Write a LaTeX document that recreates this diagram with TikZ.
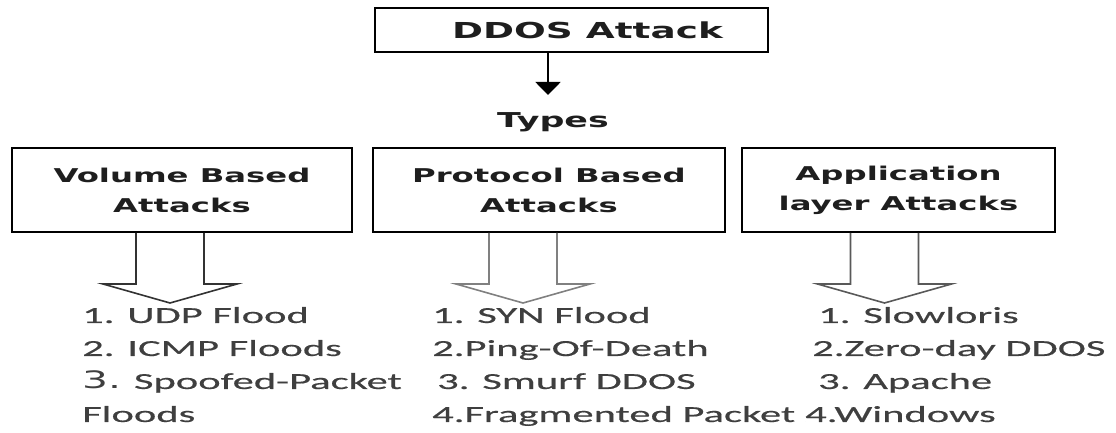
\documentclass[tikz,border=0pt]{standalone}
\usepackage{fontspec}
\setmainfont{DejaVu Sans}
\newfontfamily\headfont{DejaVu Sans}[FakeStretch=1.7]
\newfontfamily\listfont{Carlito}[FakeStretch=1.85,FakeBold=0.5]
\newfontfamily\numfont{DejaVu Sans}[FakeStretch=1.7]
\usetikzlibrary{arrows.meta,calc}
\definecolor{headcol}{HTML}{1E1E1E}
\definecolor{listcol}{HTML}{3F3F3F}
% hollow block arrow hanging below a box: #1 box, #2 shift of left shaft edge, #3 colour
\newcommand\fatarrow[3]{%
  \draw[fat,draw=#3] ([xshift=#2]#1.south) -- ++(0,-51) -- ++(-33,0)
    -- ++(67,-19) -- ++(67,19) -- ++(-33,0) -- ++(0,51);}
\begin{document}
\begin{tikzpicture}[x=1pt,y=1pt,
  box/.style={draw=black, line width=2pt, minimum height=84pt, inner sep=0pt,
    align=center, text=headcol, font=\headfont\bfseries\fontsize{19}{30}\selectfont},
  items/.style={anchor=base west, align=left, inner sep=0pt, text=listcol,
    font=\listfont\fontsize{23}{33}\selectfont},
  fat/.style={line width=1.6pt, line join=miter}]
\useasboundingbox (0,0) rectangle (1116,433);

% title and the arrow down to the types
\node[box, minimum width=393pt, minimum height=44pt,
  font=\headfont\bfseries\fontsize{22}{26}\selectfont] (top) at (571.5,403)
  {\raisebox{-8pt}{\hspace*{32pt}DDOS Attack}};
\coordinate (tip) at (548,338);
\draw[-{Triangle[width=25pt,length=13pt]}, line width=2pt] (top.south -| tip) -- (tip);
\node[anchor=base, inner sep=0pt, text=headcol,
  font=\headfont\bfseries\fontsize{20.5}{24}\selectfont] (types) at (553,305) {Types};

% the three kinds of attack
\node[box, minimum width=340pt] (vol) at (182,243) {Volume Based\\Attacks};
\node[box, minimum width=352pt] (pro) at (549,243) {Protocol Based\\Attacks};
\node[box, minimum width=313pt] (app) at (898.5,243) {Application\\layer Attacks};

\fatarrow{vol}{-46pt}{black!80}
\fatarrow{pro}{-60pt}{black!50}
\fatarrow{app}{-48pt}{black!65}

% examples of each kind (base = baseline of the last line)
\node[items] (vl) at (82,11) {1. UDP Flood\\2. ICMP Floods\\{\numfont\fontsize{24}{33}\selectfont 3.} Spoofed-Packet\\Floods};
\node[items] (pl) at (432,11) {1. SYN Flood\\2.Ping-Of-Death\\\hspace*{5pt}3. Smurf DDOS\\4.Fragmented Packet};
\node[items] (al) at (805,11) {\hspace*{13pt}1. Slowloris\\\hspace*{7pt}2.Zero-day DDOS\\\hspace*{13pt}3. Apache\\4.Windows};
\end{tikzpicture}
\end{document}
